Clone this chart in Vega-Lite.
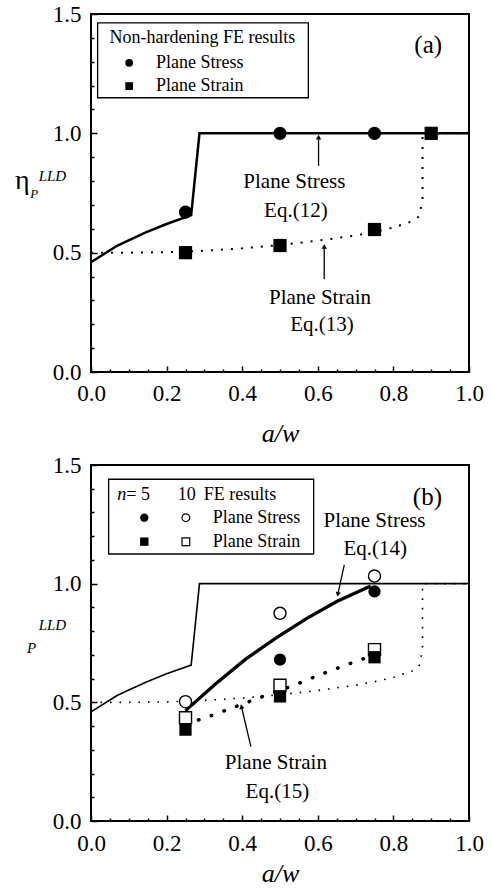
{
  "$schema": "https://vega.github.io/schema/vega-lite/v6.json",
  "padding": {"left": 13, "top": 2, "right": 5, "bottom": 3},
  "spacing": 6,
  "config": {
    "font": "Liberation Serif",
    "view": {"stroke": "black", "strokeWidth": 2},
    "axis": {"domain": false, "grid": false, "tickColor": "black", "tickWidth": 1.5, "labelColor": "black", "labelFont": "Liberation Serif", "labelFontSize": 23, "labelOverlap": false, "labelFlush": false, "labelBound": false, "titleColor": "black"},
    "text": {"font": "Liberation Serif", "color": "black"}
  },
  "datasets": {
    "eq12": [
      {"a": 0, "eta": 0.46}, {"a": 0.07, "eta": 0.53}, {"a": 0.145, "eta": 0.585}, {"a": 0.2, "eta": 0.62}, {"a": 0.265, "eta": 0.657}, {"a": 0.287, "eta": 1.0}, {"a": 1.0, "eta": 1.0}
    ],
    "eq13": [
      {"a": 0, "eta": 0.5}, {"a": 0.1, "eta": 0.5}, {"a": 0.2, "eta": 0.502}, {"a": 0.3, "eta": 0.508}, {"a": 0.4, "eta": 0.518}, {"a": 0.5, "eta": 0.532}, {"a": 0.6, "eta": 0.55}, {"a": 0.7, "eta": 0.572}, {"a": 0.75, "eta": 0.587}, {"a": 0.8, "eta": 0.605}, {"a": 0.85, "eta": 0.632}, {"a": 0.868, "eta": 0.652}, {"a": 0.877, "eta": 0.72}, {"a": 0.877, "eta": 1.0}, {"a": 1.0, "eta": 1.0}
    ],
    "eq14": [
      {"a": 0.25, "eta": 0.465}, {"a": 0.33, "eta": 0.578}, {"a": 0.41, "eta": 0.683}, {"a": 0.49, "eta": 0.772}, {"a": 0.57, "eta": 0.853}, {"a": 0.65, "eta": 0.925}, {"a": 0.74, "eta": 0.99}
    ],
    "eq15": [
      {"a": 0.25, "eta": 0.41}, {"a": 0.3, "eta": 0.433}, {"a": 0.4, "eta": 0.492}, {"a": 0.46, "eta": 0.528}, {"a": 0.5, "eta": 0.55}, {"a": 0.55, "eta": 0.58}, {"a": 0.6, "eta": 0.613}, {"a": 0.7, "eta": 0.672}, {"a": 0.75, "eta": 0.7}
    ],
    "feA": [
      {"a": 0.25, "eta": 0.67, "case": "Plane Stress"}, {"a": 0.5, "eta": 1.0, "case": "Plane Stress"}, {"a": 0.75, "eta": 1.0, "case": "Plane Stress"},
      {"a": 0.25, "eta": 0.5, "case": "Plane Strain"}, {"a": 0.5, "eta": 0.53, "case": "Plane Strain"}, {"a": 0.75, "eta": 0.597, "case": "Plane Strain"}, {"a": 0.9, "eta": 1.0, "case": "Plane Strain"}
    ],
    "feB": [
      {"a": 0.5, "eta": 0.68, "n": 5, "case": "Plane Stress"}, {"a": 0.75, "eta": 0.967, "n": 5, "case": "Plane Stress"},
      {"a": 0.25, "eta": 0.385, "n": 5, "case": "Plane Strain"}, {"a": 0.5, "eta": 0.525, "n": 5, "case": "Plane Strain"}, {"a": 0.75, "eta": 0.69, "n": 5, "case": "Plane Strain"},
      {"a": 0.25, "eta": 0.503, "n": 10, "case": "Plane Stress"}, {"a": 0.5, "eta": 0.875, "n": 10, "case": "Plane Stress"}, {"a": 0.75, "eta": 1.032, "n": 10, "case": "Plane Stress"},
      {"a": 0.25, "eta": 0.435, "n": 10, "case": "Plane Strain"}, {"a": 0.5, "eta": 0.572, "n": 10, "case": "Plane Strain"}, {"a": 0.75, "eta": 0.722, "n": 10, "case": "Plane Strain"}
    ]
  },
  "vconcat": [
    {
      "width": 378,
      "height": 358,
      "encoding": {
        "x": {"field": "a", "type": "quantitative", "scale": {"domain": [0, 1], "nice": false, "zero": false},
          "axis": {"title": "a/w", "titleFont": "Liberation Serif", "titleFontStyle": "italic", "titleFontWeight": "normal", "titleFontSize": 26, "titlePadding": 12,
            "values": [0, 0.05, 0.1, 0.15, 0.2, 0.25, 0.3, 0.35, 0.4, 0.45, 0.5, 0.55, 0.6, 0.65, 0.7, 0.75, 0.8, 0.85, 0.9, 0.95, 1.0],
            "labelExpr": "abs(datum.value*5 - round(datum.value*5)) < 0.001 ? format(datum.value, '.1f') : ''",
            "tickSize": {"condition": {"test": "abs(datum.value*5 - round(datum.value*5)) < 0.001", "value": -6}, "value": -3},
            "labelPadding": 16}},
        "y": {"field": "eta", "type": "quantitative", "scale": {"domain": [0, 1.5], "nice": false, "zero": false},
          "axis": {"title": null,
            "values": [0, 0.1, 0.2, 0.3, 0.4, 0.5, 0.6, 0.7, 0.8, 0.9, 1.0, 1.1, 1.2, 1.3, 1.4, 1.5],
            "labelExpr": "abs(datum.value*2 - round(datum.value*2)) < 0.001 ? format(datum.value, '.1f') : ''",
            "tickSize": {"condition": {"test": "abs(datum.value*2 - round(datum.value*2)) < 0.001", "value": -6}, "value": -3},
            "labelPadding": 16}}
      },
      "layer": [
        {"data": {"name": "eq12"}, "mark": {"type": "line", "color": "black", "strokeWidth": 2.5}, "encoding": {"order": {"value": null}}},
        {"data": {"name": "eq13"}, "mark": {"type": "line", "color": "black", "strokeWidth": 2, "strokeDash": [2, 8]}, "encoding": {"order": {"value": null}}},
        {"data": {"name": "feA"}, "mark": {"type": "point", "filled": true, "color": "black", "opacity": 1, "size": 175},
          "encoding": {"shape": {"field": "case", "type": "nominal", "scale": {"domain": ["Plane Stress", "Plane Strain"], "range": ["circle", "square"]}, "legend": null}}},
        {"data": {"values": [{"a": 0.602, "eta": 0.864, "a2": 0.602, "eta2": 0.975}, {"a": 0.617, "eta": 0.39, "a2": 0.617, "eta2": 0.52}]},
          "mark": {"type": "rule", "color": "black", "strokeWidth": 1.3},
          "encoding": {"x2": {"field": "a2"}, "y2": {"field": "eta2"}}},
        {"data": {"values": [{"a": 0.602, "eta": 0.984}, {"a": 0.617, "eta": 0.526}]},
          "mark": {"type": "point", "shape": "triangle-up", "filled": true, "color": "black", "opacity": 1, "size": 28}},
        {"data": {"values": [
            {"a": 0.538, "eta": 0.794, "label": "Plane Stress"}, {"a": 0.542, "eta": 0.676, "label": "Eq.(12)"},
            {"a": 0.606, "eta": 0.308, "label": "Plane Strain"}, {"a": 0.611, "eta": 0.195, "label": "Eq.(13)"}]},
          "mark": {"type": "text", "fontSize": 21, "align": "center", "baseline": "middle"},
          "encoding": {"text": {"field": "label"}}},
        {"data": {"values": [{"a": 0.892, "eta": 1.369, "label": "(a)"}]},
          "mark": {"type": "text", "fontSize": 25, "align": "center", "baseline": "middle"},
          "encoding": {"text": {"field": "label"}}},
        {"data": {"values": [{"a": 0.0175, "a2": 0.575, "eta": 1.149, "eta2": 1.4626}]},
          "mark": {"type": "rect", "fill": "white", "stroke": "black", "strokeWidth": 1.3},
          "encoding": {"x2": {"field": "a2"}, "y2": {"field": "eta2"}}},
        {"data": {"values": [
            {"a": 0.0487, "eta": 1.40, "label": "Non-hardening FE results"},
            {"a": 0.172, "eta": 1.2955, "label": "Plane Stress"},
            {"a": 0.172, "eta": 1.198, "label": "Plane Strain"}]},
          "mark": {"type": "text", "fontSize": 18, "align": "left", "baseline": "middle"},
          "encoding": {"text": {"field": "label"}}},
        {"data": {"values": [{"a": 0.101, "eta": 1.2955, "case": "Plane Stress"}, {"a": 0.101, "eta": 1.198, "case": "Plane Strain"}]},
          "mark": {"type": "point", "filled": true, "color": "black", "opacity": 1, "size": 60},
          "encoding": {"shape": {"field": "case", "type": "nominal", "scale": {"domain": ["Plane Stress", "Plane Strain"], "range": ["circle", "square"]}, "legend": null}}},
        {"data": {"values": [{"a": -0.182, "eta": 0.766, "label": "η"}]},
          "mark": {"type": "text", "fontSize": 28, "align": "center", "baseline": "alphabetic"},
          "encoding": {"text": {"field": "label"}}},
        {"data": {"values": [{"a": -0.15, "eta": 0.729, "label": "P"}]},
          "mark": {"type": "text", "fontSize": 13, "fontStyle": "italic", "align": "center", "baseline": "alphabetic"},
          "encoding": {"text": {"field": "label"}}},
        {"data": {"values": [{"a": -0.102, "eta": 0.801, "label": "LLD"}]},
          "mark": {"type": "text", "fontSize": 15, "fontStyle": "italic", "align": "center", "baseline": "alphabetic"},
          "encoding": {"text": {"field": "label"}}}
      ]
    },
    {
      "width": 378,
      "height": 356,
      "encoding": {
        "x": {"field": "a", "type": "quantitative", "scale": {"domain": [0, 1], "nice": false, "zero": false},
          "axis": {"title": "a/w", "titleFont": "Liberation Serif", "titleFontStyle": "italic", "titleFontWeight": "normal", "titleFontSize": 26, "titlePadding": 2,
            "values": [0, 0.05, 0.1, 0.15, 0.2, 0.25, 0.3, 0.35, 0.4, 0.45, 0.5, 0.55, 0.6, 0.65, 0.7, 0.75, 0.8, 0.85, 0.9, 0.95, 1.0],
            "labelExpr": "abs(datum.value*5 - round(datum.value*5)) < 0.001 ? format(datum.value, '.1f') : ''",
            "tickSize": {"condition": {"test": "abs(datum.value*5 - round(datum.value*5)) < 0.001", "value": -6}, "value": -3},
            "labelPadding": 17}},
        "y": {"field": "eta", "type": "quantitative", "scale": {"domain": [0, 1.5], "nice": false, "zero": false},
          "axis": {"title": null,
            "values": [0, 0.1, 0.2, 0.3, 0.4, 0.5, 0.6, 0.7, 0.8, 0.9, 1.0, 1.1, 1.2, 1.3, 1.4, 1.5],
            "labelExpr": "abs(datum.value*2 - round(datum.value*2)) < 0.001 ? format(datum.value, '.1f') : ''",
            "tickSize": {"condition": {"test": "abs(datum.value*2 - round(datum.value*2)) < 0.001", "value": -6}, "value": -3},
            "labelPadding": 16}}
      },
      "layer": [
        {"data": {"name": "eq12"}, "mark": {"type": "line", "color": "black", "strokeWidth": 1.6}, "encoding": {"order": {"value": null}}},
        {"data": {"name": "eq13"}, "mark": {"type": "line", "color": "black", "strokeWidth": 1.6, "strokeDash": [1.6, 7.9]}, "encoding": {"order": {"value": null}}},
        {"data": {"name": "eq14"}, "mark": {"type": "line", "color": "black", "strokeWidth": 3.3}, "encoding": {"order": {"value": null}}},
        {"data": {"name": "eq15"}, "mark": {"type": "line", "color": "black", "strokeWidth": 3.5, "strokeDash": [0.5, 13], "strokeCap": "round"}, "encoding": {"order": {"value": null}}},
        {"data": {"name": "feB"}, "transform": [{"filter": "datum.n == 10"}],
          "mark": {"type": "point", "filled": false, "fill": "white", "stroke": "black", "strokeWidth": 1.4, "opacity": 1, "fillOpacity": 1, "size": 145},
          "encoding": {"shape": {"field": "case", "type": "nominal", "scale": {"domain": ["Plane Stress", "Plane Strain"], "range": ["circle", "square"]}, "legend": null}}},
        {"data": {"name": "feB"}, "transform": [{"filter": "datum.n == 5"}],
          "mark": {"type": "point", "filled": true, "color": "black", "opacity": 1, "size": 150},
          "encoding": {"shape": {"field": "case", "type": "nominal", "scale": {"domain": ["Plane Stress", "Plane Strain"], "range": ["circle", "square"]}, "legend": null}}},
        {"data": {"values": [{"a": 0.670, "eta": 1.079, "a2": 0.653, "eta2": 0.955}, {"a": 0.423, "eta": 0.313, "a2": 0.399, "eta2": 0.475}]},
          "mark": {"type": "rule", "color": "black", "strokeWidth": 1.3},
          "encoding": {"x2": {"field": "a2"}, "y2": {"field": "eta2"}}},
        {"data": {"values": [{"a": 0.653, "eta": 0.955}]},
          "mark": {"type": "point", "shape": "triangle-down", "angle": 12, "filled": true, "color": "black", "opacity": 1, "size": 28}},
        {"data": {"values": [{"a": 0.398, "eta": 0.482}]},
          "mark": {"type": "point", "shape": "triangle-up", "angle": -13, "filled": true, "color": "black", "opacity": 1, "size": 28}},
        {"data": {"values": [
            {"a": 0.75, "eta": 1.266, "label": "Plane Stress"}, {"a": 0.752, "eta": 1.145, "label": "Eq.(14)"},
            {"a": 0.489, "eta": 0.243, "label": "Plane Strain"}, {"a": 0.493, "eta": 0.1235, "label": "Eq.(15)"}]},
          "mark": {"type": "text", "fontSize": 21, "align": "center", "baseline": "middle"},
          "encoding": {"text": {"field": "label"}}},
        {"data": {"values": [{"a": 0.89, "eta": 1.365, "label": "(b)"}]},
          "mark": {"type": "text", "fontSize": 25, "align": "center", "baseline": "middle"},
          "encoding": {"text": {"field": "label"}}},
        {"data": {"values": [{"a": 0.0466, "a2": 0.589, "eta": 1.125, "eta2": 1.44}]},
          "mark": {"type": "rect", "fill": "white", "stroke": "black", "strokeWidth": 1.3},
          "encoding": {"x2": {"field": "a2"}, "y2": {"field": "eta2"}}},
        {"data": {"values": [
            {"a": 0.0934, "eta": 1.374, "label": "= 5"},
            {"a": 0.298, "eta": 1.374, "label": "FE results"},
            {"a": 0.322, "eta": 1.278, "label": "Plane Stress"},
            {"a": 0.322, "eta": 1.177, "label": "Plane Strain"}]},
          "mark": {"type": "text", "fontSize": 18, "align": "left", "baseline": "middle"},
          "encoding": {"text": {"field": "label"}}},
        {"data": {"values": [{"a": 0.0696, "eta": 1.374, "label": "n"}]},
          "mark": {"type": "text", "fontSize": 18, "fontStyle": "italic", "align": "left", "baseline": "middle"},
          "encoding": {"text": {"field": "label"}}},
        {"data": {"values": [{"a": 0.253, "eta": 1.374, "label": "10"}]},
          "mark": {"type": "text", "fontSize": 18, "align": "center", "baseline": "middle"},
          "encoding": {"text": {"field": "label"}}},
        {"data": {"values": [{"a": 0.251, "eta": 1.278, "case": "Plane Stress"}, {"a": 0.251, "eta": 1.177, "case": "Plane Strain"}]},
          "mark": {"type": "point", "filled": false, "fill": "white", "stroke": "black", "strokeWidth": 1.2, "opacity": 1, "fillOpacity": 1, "size": 60},
          "encoding": {"shape": {"field": "case", "type": "nominal", "scale": {"domain": ["Plane Stress", "Plane Strain"], "range": ["circle", "square"]}, "legend": null}}},
        {"data": {"values": [{"a": 0.141, "eta": 1.278, "case": "Plane Stress"}, {"a": 0.141, "eta": 1.177, "case": "Plane Strain"}]},
          "mark": {"type": "point", "filled": true, "color": "black", "opacity": 1, "size": 70},
          "encoding": {"shape": {"field": "case", "type": "nominal", "scale": {"domain": ["Plane Stress", "Plane Strain"], "range": ["circle", "square"]}, "legend": null}}},
        {"data": {"values": [{"a": -0.157, "eta": 0.708, "label": "P"}]},
          "mark": {"type": "text", "fontSize": 15, "fontStyle": "italic", "align": "center", "baseline": "alphabetic"},
          "encoding": {"text": {"field": "label"}}},
        {"data": {"values": [{"a": -0.102, "eta": 0.805, "label": "LLD"}]},
          "mark": {"type": "text", "fontSize": 15, "fontStyle": "italic", "align": "center", "baseline": "alphabetic"},
          "encoding": {"text": {"field": "label"}}}
      ]
    }
  ]
}
